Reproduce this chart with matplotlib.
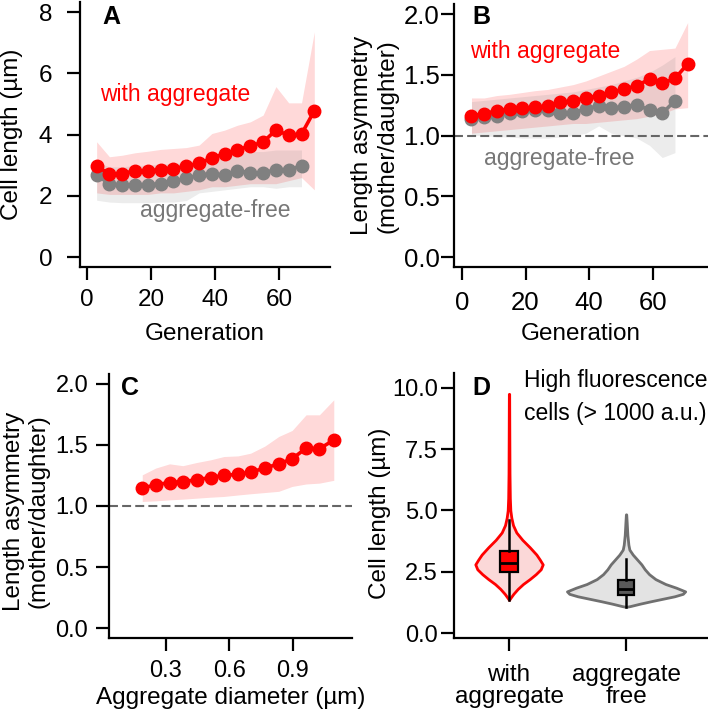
import matplotlib
matplotlib.use('Agg')
import matplotlib.pyplot as plt
import numpy as np

plt.rcParams['font.family'] = ['Liberation Sans', 'DejaVu Sans']

# ---- panel A: cell length vs generation ----
gen_with = [3, 7, 11, 15, 19, 23, 27, 31, 35, 39, 43, 47, 51, 55, 59, 63, 67, 71]
len_with = [2.98, 2.71, 2.73, 2.82, 2.82, 2.86, 2.89, 2.97, 3.06, 3.24, 3.38, 3.51,
            3.63, 3.76, 4.15, 3.98, 4.02, 4.78]
len_with_hi = [3.77, 3.28, 3.33, 3.41, 3.46, 3.52, 3.55, 3.58, 3.66, 4.04, 4.15, 4.31,
               4.42, 4.64, 5.57, 5.04, 5.04, 7.36]
len_with_lo = [2.10, 2.05, 2.05, 2.05, 2.05, 2.10, 2.10, 2.15, 2.20, 2.30, 2.30, 2.35,
               2.40, 2.40, 2.40, 2.50, 2.60, 2.20]

gen_free = [3, 7, 11, 15, 19, 23, 27, 31, 35, 39, 43, 47, 51, 55, 59, 63, 67]
len_free = [2.68, 2.40, 2.35, 2.37, 2.37, 2.40, 2.48, 2.57, 2.68, 2.73, 2.68, 2.82,
            2.76, 2.75, 2.86, 2.86, 2.98]
len_free_hi = [3.10, 2.95, 2.95, 3.00, 3.00, 3.05, 3.05, 3.10, 3.20, 3.30, 3.35, 3.40,
               3.45, 3.45, 3.50, 3.50, 3.50]
len_free_lo = [1.86, 1.80, 1.78, 1.78, 1.78, 1.80, 1.80, 1.85, 2.10, 2.15, 2.20, 2.25,
               2.30, 2.30, 2.25, 2.30, 2.30]

# ---- panel B: length asymmetry vs generation ----
asym_with = [1.164, 1.18, 1.205, 1.22, 1.227, 1.232, 1.246, 1.273, 1.287, 1.31, 1.328,
             1.355, 1.383, 1.41, 1.465, 1.43, 1.47, 1.59]
asym_with_hi = [1.31, 1.31, 1.33, 1.34, 1.355, 1.37, 1.38, 1.40, 1.42, 1.45, 1.49, 1.53,
                1.57, 1.63, 1.70, 1.71, 1.72, 1.93]
asym_with_lo = [1.02, 1.03, 1.04, 1.05, 1.06, 1.07, 1.08, 1.09, 1.10, 1.10, 1.11, 1.12,
                1.13, 1.14, 1.16, 1.18, 1.22, 1.23]
asym_free = [1.137, 1.15, 1.164, 1.19, 1.205, 1.21, 1.21, 1.19, 1.19, 1.22, 1.246,
             1.227, 1.238, 1.254, 1.21, 1.183, 1.287]
asym_free_hi = [1.28, 1.29, 1.30, 1.31, 1.32, 1.33, 1.34, 1.35, 1.36, 1.38, 1.40, 1.42,
                1.45, 1.48, 1.52, 1.58, 1.65]
asym_free_lo = [1.00, 1.00, 0.99, 0.99, 0.98, 0.98, 0.98, 0.99, 1.00, 1.02, 1.08, 1.02,
                1.00, 0.98, 0.92, 0.82, 0.86]

# ---- panel C: length asymmetry vs aggregate diameter ----
diam = [0.188, 0.251, 0.317, 0.380, 0.445, 0.511, 0.574, 0.640, 0.700, 0.767, 0.833,
        0.896, 0.962, 1.025, 1.093]
asym_diam = [1.146, 1.173, 1.192, 1.20, 1.214, 1.233, 1.25, 1.26, 1.277, 1.31, 1.345,
             1.386, 1.473, 1.468, 1.54]
asym_diam_hi = [1.255, 1.31, 1.345, 1.33, 1.356, 1.378, 1.405, 1.41, 1.432, 1.49, 1.569,
                1.618, 1.746, 1.746, 1.869]
asym_diam_lo = [1.037, 1.042, 1.05, 1.056, 1.064, 1.072, 1.078, 1.09, 1.10, 1.11, 1.12,
                1.16, 1.18, 1.187, 1.21]

# ---- panel D: violin profiles (cell length, relative density) + box stats ----
groups = ['with\naggregate', 'aggregate\nfree']
red_len = [1.35, 1.45, 1.6, 1.8, 2.0, 2.2, 2.4, 2.6, 2.8, 3.0, 3.2, 3.5, 3.8, 4.1, 4.4,
           4.7, 5.0, 5.5, 6.5, 8.0, 9.75]
red_dens = [0, 5, 13, 26, 42, 62, 80, 95, 101, 92, 82, 62, 40, 22, 12, 7, 4, 2.5, 1.5, 1, 0.5]
gray_len = [1.07, 1.1, 1.2, 1.3, 1.4, 1.5, 1.6, 1.7, 1.85, 2.0, 2.2, 2.4, 2.6, 2.8, 3.0,
            3.2, 3.4, 3.6, 4.0, 4.5, 4.84]
gray_dens = [0, 12, 42, 75, 110, 145, 170, 177, 150, 118, 88, 69, 56, 46, 33, 20, 10, 7, 4, 2, 0.5]
box_q1 = [2.50, 1.55]
box_med = [2.85, 1.80]
box_q3 = [3.35, 2.15]
box_lo = [1.33, 1.07]
box_hi = [4.60, 3.02]

RED = '#ff0000'
GRAY = '#808080'
TXTGRAY = '#777777'

W, H = 708, 715
fig = plt.figure(figsize=(W / 100, H / 100), dpi=100)


def px_axes(l, r, t, b):
    return fig.add_axes([l / W, 1 - b / H, (r - l) / W, (b - t) / H])


def style(ax, ypad, xpad, size):
    for s in ['top', 'right']:
        ax.spines[s].set_visible(False)
    for s in ['left', 'bottom']:
        ax.spines[s].set_linewidth(1.6)
    ax.tick_params(axis='both', length=9.5, width=1.6, labelsize=size)
    ax.tick_params(axis='y', pad=ypad)
    ax.tick_params(axis='x', pad=xpad)


def band(ax, x, lo, hi, color):
    ax.fill_between(x, lo, hi, color=color, alpha=0.15, lw=0)


def line(ax, x, y, color):
    ax.plot(x, y, '-o', color=color, lw=2.6, ms=9, zorder=3)


# A
axA = px_axes(80, 330, 2.4, 267)
band(axA, gen_with, len_with_lo, len_with_hi, RED)
band(axA, gen_free, len_free_lo, len_free_hi, GRAY)
line(axA, gen_free, len_free, GRAY)
line(axA, gen_with, len_with, RED)
axA.set_xlim(-2.2, 75.9)
axA.set_ylim(-0.32, 8.32)
axA.set_xticks([0, 20, 40, 60])
axA.set_yticks([0, 2, 4, 6, 8])
style(axA, 10.5, 6, 17.5)
axA.set_ylabel('Cell length (µm)', fontsize=17.5)
axA.yaxis.set_label_coords(-0.228, 0.5)
axA.set_xlabel('Generation', fontsize=17.5)
axA.xaxis.set_label_coords(0.5, -0.212)
axA.text(4, 5.3, 'with aggregate', color=RED, fontsize=16.5, va='center')
axA.text(16.6, 1.54, 'aggregate-free', color=TXTGRAY, fontsize=16.5, va='center')

# B
axB = px_axes(454, 708, 4.3, 267)
band(axB, gen_with, asym_with_lo, asym_with_hi, RED)
band(axB, gen_free, asym_free_lo, asym_free_hi, GRAY)
axB.axhline(1.0, color='#666666', lw=1.5, ls=(0, (4.3, 2)), zorder=2)
line(axB, gen_free, asym_free, GRAY)
line(axB, gen_with, asym_with, RED)
axB.set_xlim(-2.5, 77.4)
axB.set_ylim(-0.08, 2.08)
axB.set_xticks([0, 20, 40, 60])
axB.set_yticks([0, 0.5, 1.0, 1.5, 2.0])
axB.set_yticklabels(['0.0', '0.5', '1.0', '1.5', '2.0'])
style(axB, 1, 7.5, 18.5)
axB.set_ylabel('Length asymmetry\n(mother/daughter)', fontsize=17.5)
axB.yaxis.set_label_coords(-0.220, 0.5)
axB.set_xlabel('Generation', fontsize=17.5)
axB.xaxis.set_label_coords(0.5, -0.212)
axB.text(2.5, 1.69, 'with aggregate', color=RED, fontsize=16.5, va='center')
axB.text(6.9, 0.81, 'aggregate-free', color=TXTGRAY, fontsize=16.5, va='center')

# C
axC = px_axes(109, 352, 374, 638)
band(axC, diam, asym_diam_lo, asym_diam_hi, RED)
axC.axhline(1.0, color='#666666', lw=1.5, ls=(0, (4.3, 2)), zorder=2)
line(axC, diam, asym_diam, RED)
axC.set_xlim(0.031, 1.179)
axC.set_ylim(-0.08, 2.08)
axC.set_xticks([0.3, 0.6, 0.9])
axC.set_yticks([0, 0.5, 1.0, 1.5, 2.0])
axC.set_yticklabels(['0.0', '0.5', '1.0', '1.5', '2.0'])
style(axC, 5.5, 6, 17)
axC.set_ylabel('Length asymmetry\n(mother/daughter)', fontsize=17.5)
axC.yaxis.set_label_coords(-0.243, 0.48)
axC.set_xlabel('Aggregate diameter (µm)', fontsize=17.5)
axC.xaxis.set_label_coords(0.5, -0.185)

# D
axD = px_axes(454, 708, 373, 638)
vstats = []
for ys, ds in [(red_len, red_dens), (gray_len, gray_dens)]:
    ys = np.array(ys, float)
    vstats.append(dict(coords=ys, vals=np.array(ds, float), mean=ys.mean(),
                       median=np.median(ys), min=ys.min(), max=ys.max()))
parts = axD.violin(vstats, positions=[0, 1], widths=[0.576, 1.01],
                   showmeans=False, showextrema=False, showmedians=False)
for body, fc, ec in zip(parts['bodies'], ['#fbd8d8', '#e3e3e3'], [RED, '#707070']):
    body.set_facecolor(fc)
    body.set_edgecolor(ec)
    body.set_linewidth(2)
    body.set_alpha(1)
bstats = [dict(med=box_med[i], q1=box_q1[i], q3=box_q3[i], whislo=box_lo[i],
               whishi=box_hi[i], fliers=[]) for i in range(2)]
bp = axD.bxp(bstats, positions=[0, 1], widths=[0.157, 0.13], patch_artist=True,
             showcaps=False, showfliers=False,
             boxprops=dict(edgecolor='black', linewidth=1.6),
             medianprops=dict(color='black', linewidth=2),
             whiskerprops=dict(color='black', linewidth=1.8))
for b, c in zip(bp['boxes'], [RED, '#5a5a5a']):
    b.set_facecolor(c)
axD.set_xlim(-0.47, 1.70)
axD.set_ylim(-0.2, 10.6)
axD.set_xticks([0, 1])
axD.set_xticklabels(groups, linespacing=0.95)
axD.set_yticks([0, 2.5, 5.0, 7.5, 10.0])
axD.set_yticklabels(['0.0', '2.5', '5.0', '7.5', '10.0'])
style(axD, 2.2, 9.5, 17)
axD.tick_params(axis='x', labelsize=17.5)
axD.set_ylabel('Cell length (µm)', fontsize=17.5)
axD.yaxis.set_label_coords(-0.248, 0.47)

fig.text(524 / W, 1 - 369 / H, 'High fluorescence\ncells (> 1000 a.u.)',
         fontsize=16.5, va='top', ha='left', linespacing=1.55)

# panel letters
for lab, x, y in [('A', 102, 5), ('B', 472, 5), ('C', 121, 376), ('D', 472, 376)]:
    fig.text(x / W, 1 - y / H, lab, fontsize=18, fontweight='bold', va='top', ha='left')

fig.savefig('out.png', dpi=100)
